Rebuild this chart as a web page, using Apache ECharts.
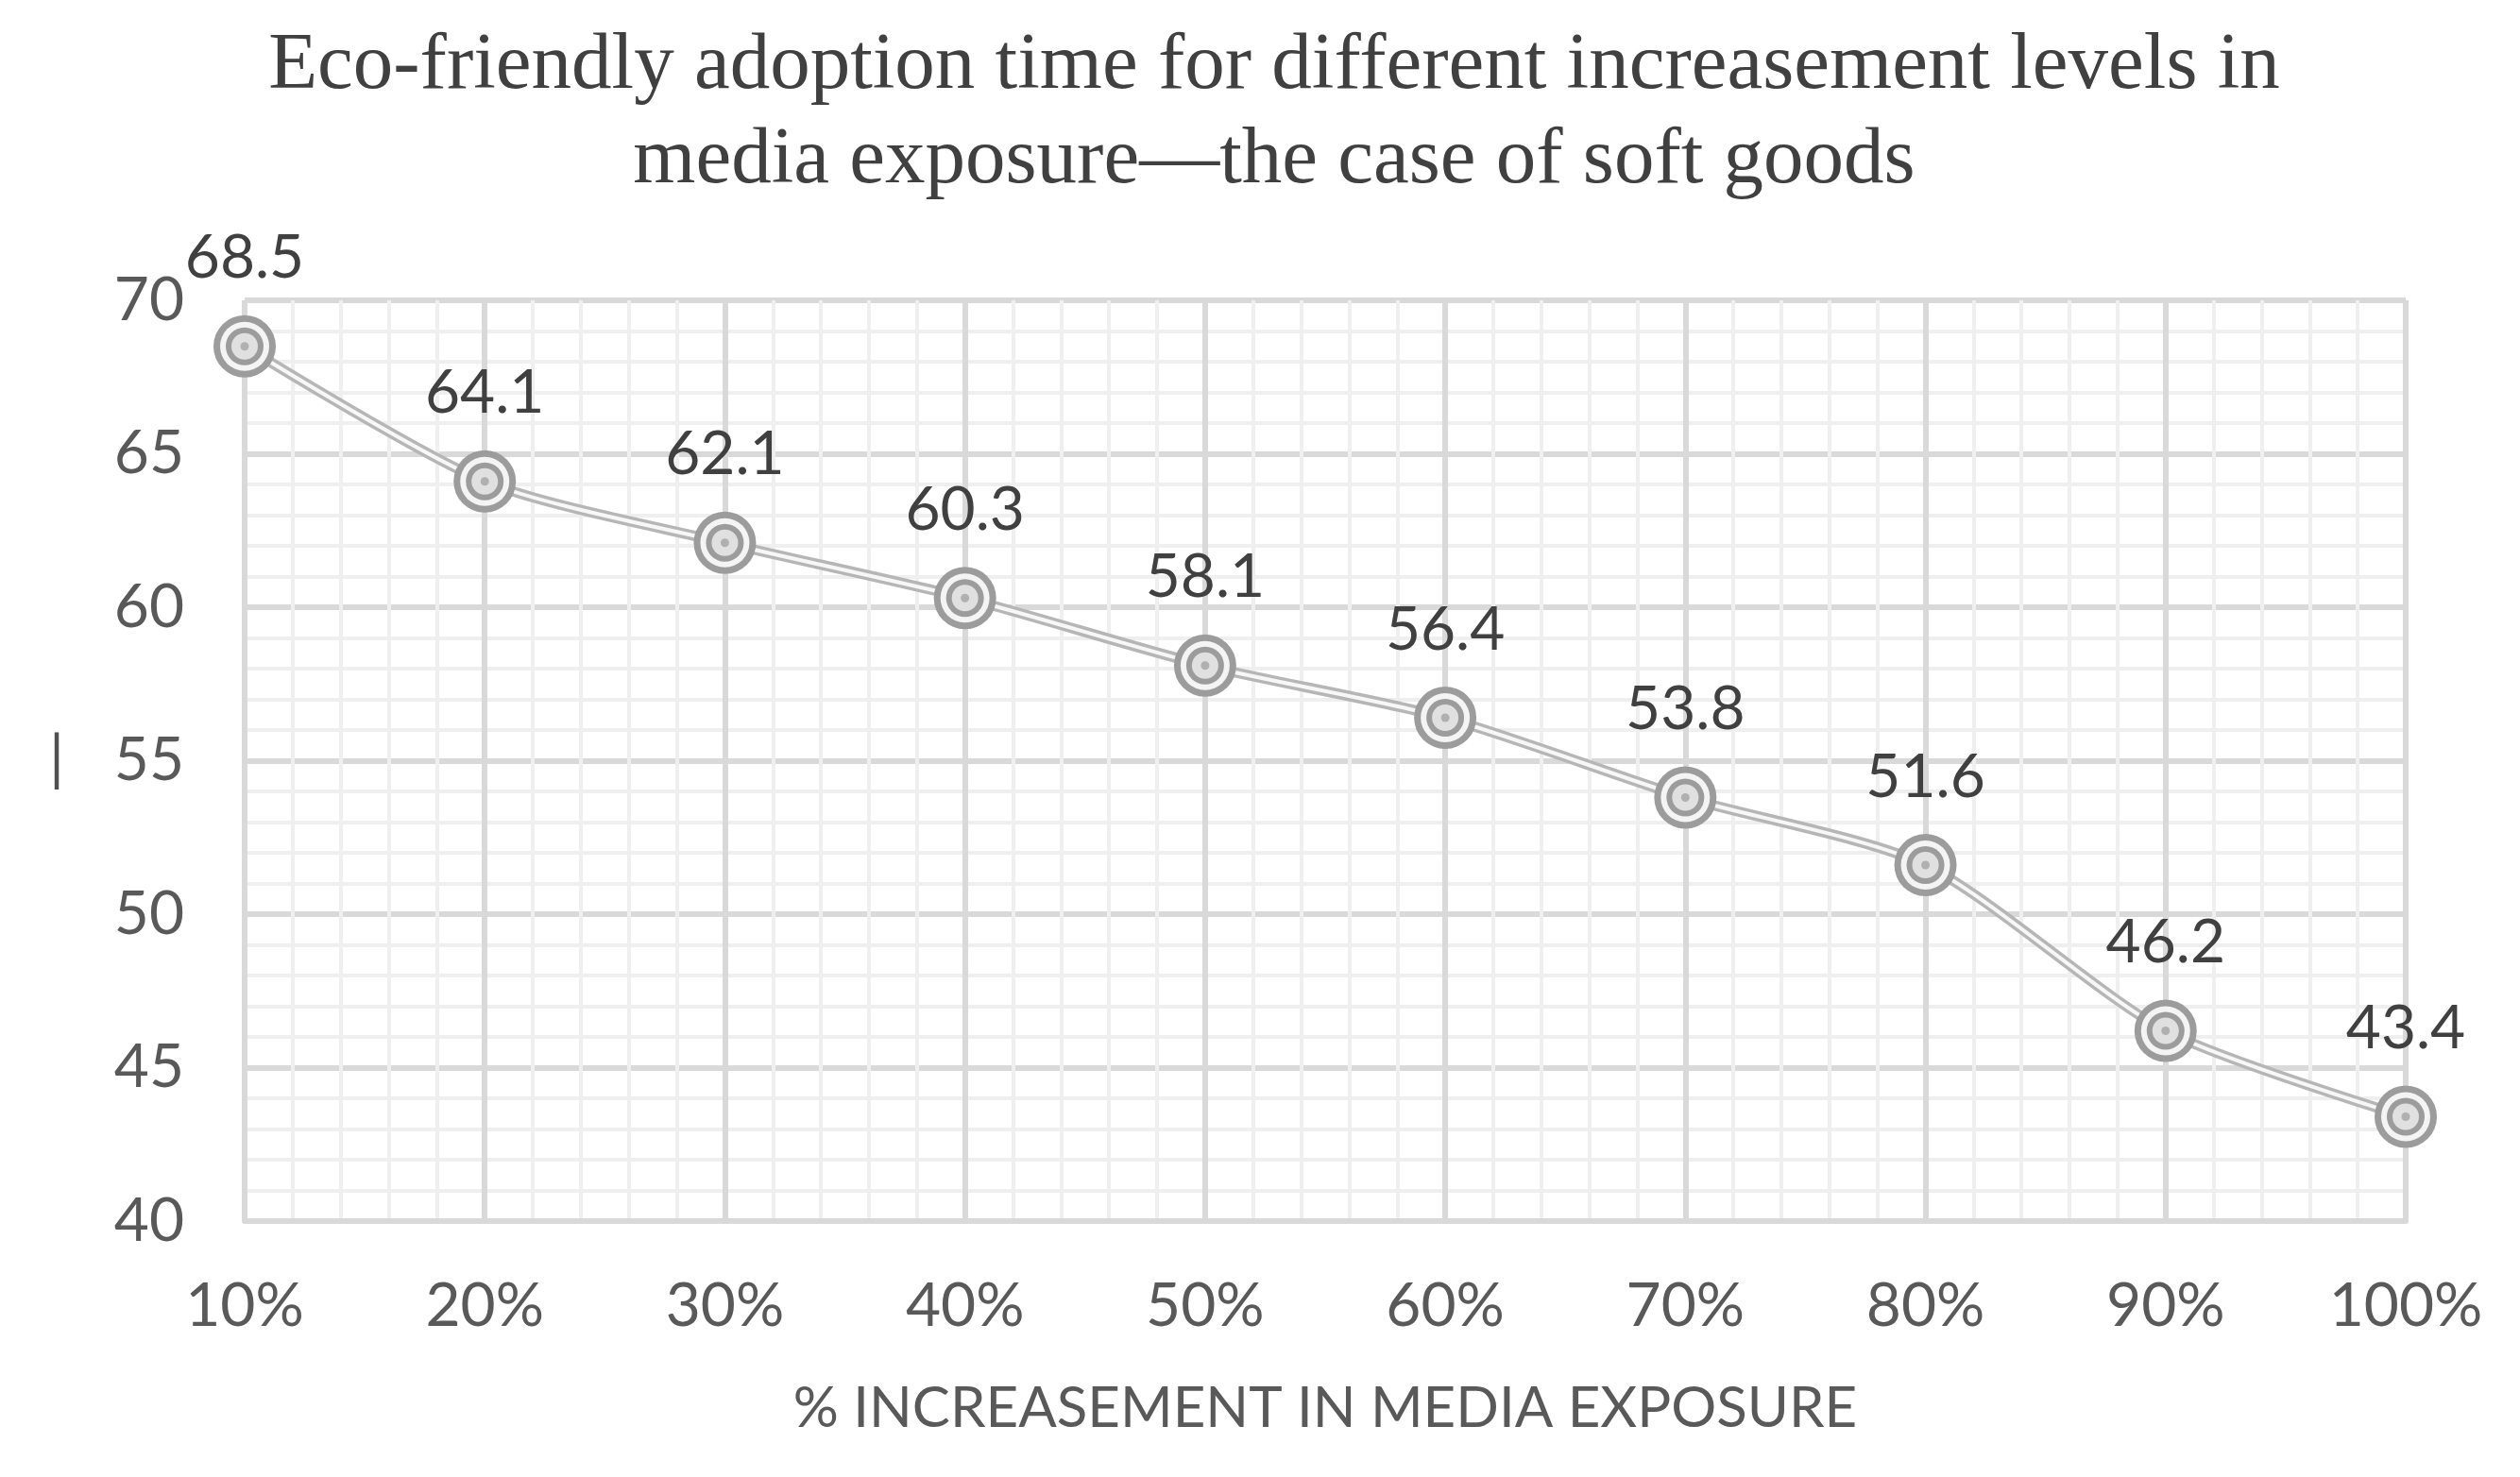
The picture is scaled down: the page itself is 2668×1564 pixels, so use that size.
<!DOCTYPE html>
<html>
<head>
<meta charset="utf-8">
<script src="https://cdn.jsdelivr.net/npm/echarts@6/dist/echarts.min.js"></script>
<style>
html,body{margin:0;padding:0;background:#fff;}
#chart{width:2668px;height:1564px;}
</style>
</head>
<body>
<div id="chart"></div>
<script>
const titleLines = ['Eco-friendly adoption time for different increasement levels in', 'media exposure\u2014the case of soft goods'];
const xName = '% INCREASEMENT IN MEDIA EXPOSURE';
const exposure = [10, 20, 30, 40, 50, 60, 70, 80, 90, 100];
const adoptionTime = [68.5, 64.1, 62.1, 60.3, 58.1, 56.4, 53.8, 51.6, 46.2, 43.4];
const yTicks = [40, 45, 50, 55, 60, 65, 70];

const pts = exposure.map((x, i) => [x, adoptionTime[i]]);
const sans = 'Lato, "Open Sans", sans-serif';

const chart = echarts.init(document.getElementById('chart'), null, {renderer: 'canvas'});

function ring(size, color, z, withLabel) {
  const s = {
    type: 'scatter', data: pts, symbol: 'circle', symbolSize: size,
    itemStyle: {color: color, opacity: 1}, z: z, silent: true,
    label: {show: false}
  };
  if (withLabel) {
    s.label = {
      show: true, position: 'top', distance: 28,
      formatter: p => p.value[1].toFixed(1),
      fontFamily: sans, fontSize: 64, color: '#404040'
    };
  }
  return s;
}

chart.setOption({
  animation: false,
  backgroundColor: '#ffffff',
  title: {
    text: titleLines.join('\n'),
    left: 1344, top: 16, textAlign: 'center',
    textStyle: {fontFamily: '"Liberation Serif", serif', fontSize: 85, fontWeight: 'normal', color: '#404040', lineHeight: 100}
  },
  graphic: [{
    type: 'text', left: 52, top: 772,
    style: {text: '|', font: '64px Lato', fill: '#505050'}
  }],
  grid: {left: 259, right: 121, top: 318, bottom: 271, containLabel: false},
  xAxis: {
    type: 'value', min: 10, max: 100, interval: 10,
    name: xName, nameLocation: 'middle', nameGap: 169,
    nameTextStyle: {fontFamily: sans, fontSize: 60, color: '#595959'},
    axisLine: {show: true, lineStyle: {color: '#d9d9d9', width: 6}},
    axisTick: {show: false},
    axisLabel: {margin: 58, formatter: '{value}%', fontFamily: sans, fontSize: 64, color: '#595959'},
    splitLine: {show: true, lineStyle: {color: '#d9d9d9', width: 6}},
    minorTick: {show: false, splitNumber: 5},
    minorSplitLine: {show: true, lineStyle: {color: '#efefef', width: 4}}
  },
  yAxis: {
    type: 'value', min: 40, max: 70, interval: 5,
    axisLine: {show: false},
    axisTick: {show: false},
    axisLabel: {margin: 64, fontFamily: sans, fontSize: 64, color: '#595959'},
    splitLine: {show: true, lineStyle: {color: '#d9d9d9', width: 6}},
    minorTick: {show: false, splitNumber: 5},
    minorSplitLine: {show: true, lineStyle: {color: '#efefef', width: 4}}
  },
  series: [
    {type: 'line', data: pts, smooth: 0.25, symbol: 'none', z: 3, silent: true,
     lineStyle: {color: '#b6b6b6', width: 11}},
    {type: 'line', data: pts, smooth: 0.25, symbol: 'none', z: 4, silent: true,
     lineStyle: {color: '#f7f7f7', width: 4}},
    ring(66, '#9c9c9c', 5, true),
    ring(52, '#f4f4f4', 6, false),
    ring(40, '#9c9c9c', 7, false),
    ring(28, '#e0e0e0', 8, false),
    ring(9, '#b0b0b0', 9, false)
  ]
});
</script>
</body>
</html>
